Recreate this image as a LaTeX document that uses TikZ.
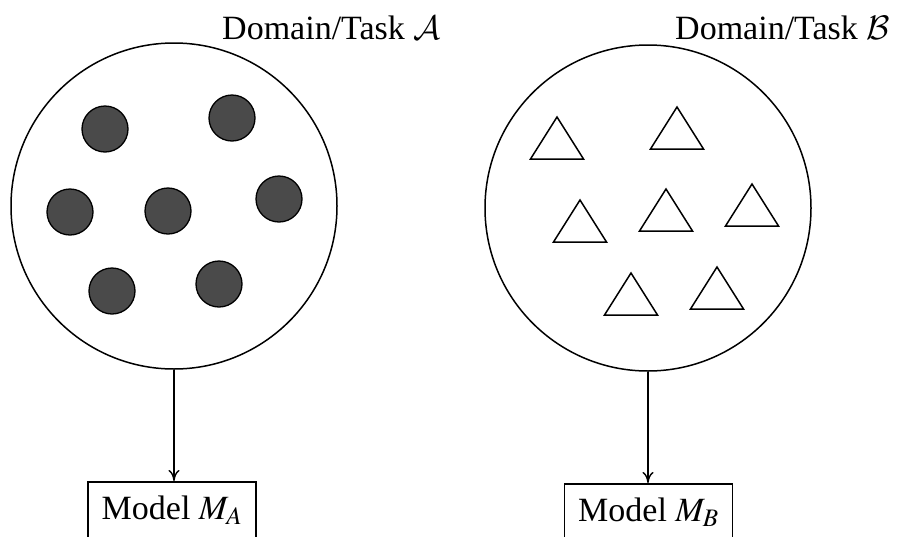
\documentclass[tikz,border=0pt]{standalone}
\usepackage{mathptmx}
\usepackage{fontspec}
\setmainfont{Liberation Serif}
\DeclareFontFamily{OMS}{cmsyx}{\skewchar\font48}
\DeclareFontShape{OMS}{cmsyx}{m}{n}{<-> cmsy10}{}
\DeclareMathAlphabet{\mathcalcm}{OMS}{cmsyx}{m}{n}
\usetikzlibrary{arrows.meta}
\definecolor{dotgray}{HTML}{4A4A4A}
\tikzset{
  domaincirc/.style={circle, draw, line width=1.5pt, minimum size=326pt, inner sep=0pt},
  dotitem/.style={circle, draw, line width=1.3pt, fill=dotgray, minimum size=46pt, inner sep=0pt},
  triitem/.style={draw, line width=1.5pt, line join=miter},
  modelbox/.style={draw, line width=1.5pt, inner xsep=13.5pt, inner ysep=13.8pt, anchor=north},
  titletext/.style={anchor=base west, inner sep=0pt},
  flowarrow/.style={line width=1.4pt, -{To[length=11pt,width=11pt]}},
  bigtext/.style={font=\fontsize{34}{40}\selectfont}
}
\begin{document}
\begin{tikzpicture}[x=1pt, y=-1pt, bigtext]
\useasboundingbox (0,0) rectangle (897,536);
\clip (0,0) rectangle (897,536);
% left domain
\node[domaincirc] (circA) at (174,206) {};
\node[titletext] (titleA) at (222,39) {Domain/Task $\mathcalcm{A}$};
\foreach \x/\y [count=\i] in {105/129, 232/118, 70/212, 168/211, 279/199, 112/291, 219/284}
  \node[dotitem] (dotA\i) at (\x,\y) {};
% right domain
\node[domaincirc] (circB) at (648,208) {};
\node[titletext] (titleB) at (675,39) {Domain/Task $\mathcalcm{B}$};
\foreach \x/\y [count=\i] in {557/117, 677/107, 580/200, 666/189, 752/184, 631/273, 717/267}
  \draw[triitem] (\x,\y) -- (\x+26.5,\y+42) -- (\x-26.5,\y+42) -- cycle;
% models
\node[modelbox] (boxA) at (172,481) {Model $M_A$};
\node[modelbox] (boxB) at (648.5,483) {Model $M_B$};
\draw[flowarrow] (circA.south) -- (circA.south |- boxA.north);
\draw[flowarrow] (circB.south) -- (circB.south |- boxB.north);
\end{tikzpicture}
\end{document}
